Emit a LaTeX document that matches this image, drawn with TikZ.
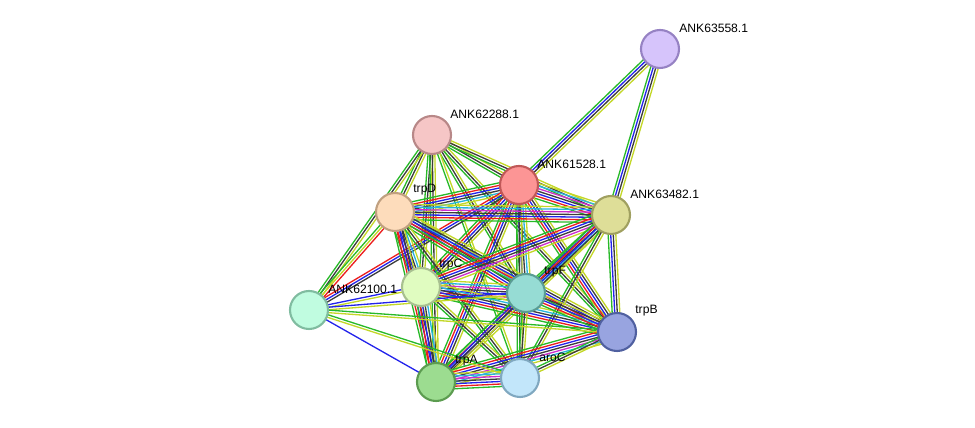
\documentclass[tikz,border=0pt]{standalone}
\usepackage{fontspec}
\setmainfont{Liberation Sans}
\usepackage{tikz}
\usetikzlibrary{calc,backgrounds}

\definecolor{sg}{RGB}{40,185,40}
\definecolor{sr}{RGB}{235,30,30}
\definecolor{sb}{RGB}{35,35,235}
\definecolor{sk}{RGB}{60,60,60}
\definecolor{sm}{RGB}{205,45,205}
\definecolor{sc}{RGB}{40,180,220}
\definecolor{sy}{RGB}{195,215,40}

% bundle of parallel lines between two proteins
\newcommand{\link}[3]{%
  \def\nn{0}%
  \foreach \c in {#3}{\xdef\nn{\the\numexpr\nn+1\relax}}%
  \foreach \c [count=\i] in {#3}{%
    \pgfmathsetmacro\off{(\i-(\nn+1)/2)*1.45}%
    \draw[\c, line width=0.75pt] ($(#1)!\off pt!90:(#2)$) -- ($(#2)!\off pt!-90:(#1)$);
  }%
}

\begin{document}
\begin{tikzpicture}[
    x=0.02cm, y=-0.02cm,
    prot/.style={
        circle,
        line width=1.2pt,
        minimum size=0.76cm,
        inner sep=0pt
    },
    lbl/.style={
        anchor=west,
        inner sep=0pt,
        font=\fontsize{6.9}{8}\selectfont
    }
]
\useasboundingbox (0,0) rectangle (975,428);

% Proteine
\node[prot, fill={rgb,255:red,214;green,196;blue,251}, draw={rgb,255:red,150;green,130;blue,195}] (n63558) at (660,49) {};
\node[prot, fill={rgb,255:red,246;green,198;blue,198}, draw={rgb,255:red,184;green,136;blue,136}] (n62288) at (432,135) {};
\node[prot, fill={rgb,255:red,252;green,149;blue,149}, draw={rgb,255:red,192;green,88;blue,88}] (n61528) at (519,185) {};
\node[prot, fill={rgb,255:red,253;green,220;blue,187}, draw={rgb,255:red,192;green,160;blue,128}] (trpD) at (395,212) {};
\node[prot, fill={rgb,255:red,222;green,222;blue,152}, draw={rgb,255:red,160;green,160;blue,96}] (n63482) at (611,215) {};
\node[prot, fill={rgb,255:red,224;green,252;blue,192}, draw={rgb,255:red,168;green,192;blue,144}] (trpC) at (421,287) {};
\node[prot, fill={rgb,255:red,150;green,220;blue,212}, draw={rgb,255:red,90;green,156;blue,148}] (trpF) at (526,293) {};
\node[prot, fill={rgb,255:red,192;green,252;blue,224}, draw={rgb,255:red,128;green,188;blue,160}] (n62100) at (309,310) {};
\node[prot, fill={rgb,255:red,152;green,164;blue,224}, draw={rgb,255:red,80;green,96;blue,160}] (trpB) at (617,332) {};
\node[prot, fill={rgb,255:red,156;green,220;blue,144}, draw={rgb,255:red,92;green,156;blue,80}] (trpA) at (436,382) {};
\node[prot, fill={rgb,255:red,194;green,230;blue,250}, draw={rgb,255:red,128;green,168;blue,192}] (aroC) at (520,378) {};

% Etichette
\node[lbl] (l63558) at ($(n63558)+(19,-21)$) {ANK63558.1};
\node[lbl] (l62288) at ($(n62288)+(18,-21)$) {ANK62288.1};
\node[lbl] (l61528) at ($(n61528)+(18,-21)$) {ANK61528.1};
\node[lbl] (ltrpD) at ($(trpD)+(18,-22)$) {trpD};
\node[lbl] (l63482) at ($(n63482)+(19,-21)$) {ANK63482.1};
\node[lbl] (ltrpC) at ($(trpC)+(18,-22)$) {trpC};
\node[lbl] (ltrpF) at ($(trpF)+(18,-21)$) {trpF};
\node[lbl] (l62100) at ($(n62100)+(19,-21)$) {ANK62100.1};
\node[lbl] (ltrpB) at ($(trpB)+(18,-21)$) {trpB};
\node[lbl] (ltrpA) at ($(trpA)+(19,-21)$) {trpA};
\node[lbl] (laroC) at ($(aroC)+(19,-21)$) {aroC};

% Interazioni
\begin{scope}[on background layer]
\link{n63558}{n61528}{sg,sb,sk,sy}
\link{n63558}{n63482}{sg,sb,sk,sy}
\link{n62288}{n61528}{sg,sk,sy}
\link{n62288}{n63482}{sg,sk,sy}
\link{n62288}{trpD}{sg,sk,sy}
\link{n62288}{trpC}{sg,sk,sy}
\link{n62288}{trpF}{sg,sk,sy}
\link{n62288}{trpB}{sg,sk,sy}
\link{n62288}{trpA}{sg,sk,sy}
\link{n62288}{aroC}{sg,sy}
\link{n62288}{n62100}{sg,sk,sy}
\link{n61528}{trpD}{sg,sr,sb,sk,sc,sy}
\link{n61528}{n63482}{sg,sr,sb,sk,sm,sc,sy}
\link{n61528}{trpC}{sg,sr,sb,sk,sy}
\link{n61528}{trpF}{sg,sb,sk,sc,sy}
\link{n61528}{trpB}{sg,sr,sb,sk,sy}
\link{n61528}{trpA}{sg,sr,sb,sk,sy}
\link{n61528}{aroC}{sg,sk,sy}
\link{n61528}{n62100}{sr,sb,sk}
\link{trpD}{n63482}{sg,sr,sb,sk,sm,sc,sy}
\link{trpD}{trpC}{sg,sr,sb,sk,sc,sy}
\link{trpD}{trpF}{sg,sr,sb,sk,sc,sy}
\link{trpD}{trpB}{sg,sr,sb,sk,sy}
\link{trpD}{trpA}{sg,sr,sb,sk,sy}
\link{trpD}{aroC}{sg,sk,sy}
\link{trpD}{n62100}{sg,sy,sr}
\link{n63482}{trpC}{sg,sr,sb,sk,sm,sy}
\link{n63482}{trpF}{sg,sb,sk,sc,sy}
\link{n63482}{trpB}{sg,sb,sk,sy}
\link{n63482}{trpA}{sg,sr,sb,sk,sy}
\link{n63482}{aroC}{sg,sk,sy}
\link{trpC}{trpF}{sg,sr,sb,sk,sm,sc,sy}
\link{trpC}{trpB}{sg,sr,sb,sk,sc,sy}
\link{trpC}{trpA}{sg,sr,sb,sk,sc,sy}
\link{trpC}{aroC}{sg,sk,sy}
\link{trpC}{n62100}{sb,sy}
\link{trpF}{trpB}{sg,sr,sb,sk,sy}
\link{trpF}{trpA}{sg,sb,sk,sy}
\link{trpF}{aroC}{sg,sk,sy}
\link{trpF}{n62100}{sb,sy}
\link{trpB}{trpA}{sg,sr,sb,sk,sm,sc,sy}
\link{trpB}{aroC}{sg,sk,sy}
\link{trpB}{n62100}{sg,sy}
\link{trpA}{aroC}{sg,sr,sb,sk,sm,sc,sy}
\link{trpA}{n62100}{sb}
\link{aroC}{n62100}{sg,sy}
\end{scope}

\end{tikzpicture}
\end{document}
